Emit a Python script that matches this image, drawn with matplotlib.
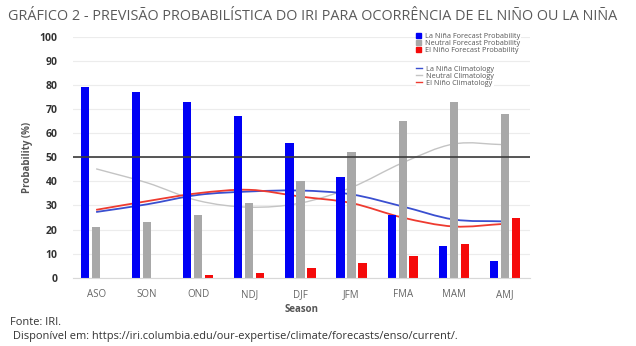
import numpy as np
import matplotlib
matplotlib.use("Agg")
import matplotlib.pyplot as plt
from matplotlib.path import Path
from matplotlib.patches import PathPatch, Patch
from matplotlib.lines import Line2D

plt.rcParams['font.family'] = ['Open Sans', 'DejaVu Sans']

# estações (trimestres) e probabilidades do IRI (%)
estacoes = ["ASO", "SON", "OND", "NDJ", "DJF", "JFM", "FMA", "MAM", "AMJ"]
prob_la_nina = [79, 77, 73, 67, 56, 42, 26, 13, 7]
prob_neutro = [21, 23, 26, 31, 40, 52, 65, 73, 68]
prob_el_nino = [0, 0, 1, 2, 4, 6, 9, 14, 25]

# climatologias
clim_la_nina = [27.3, 30.5, 34.4, 35.8, 36.2, 34.6, 29.6, 24.2, 23.4]
clim_neutro = [45.2, 39.4, 32.0, 29.3, 31.0, 37.5, 47.7, 55.5, 55.2]
clim_el_nino = [28.2, 31.8, 35.1, 36.5, 33.7, 31.0, 25.0, 21.3, 22.4]

cor_azul = "#0000f5"
cor_cinza = "#a8a8a8"
cor_verm = "#f50a0a"


def curva(ax, xs, ys, cor, lw):
    # spline simples (Catmull-Rom) convertida em Bezier cubica
    xs = np.asarray(xs, float)
    ys = np.asarray(ys, float)
    n = len(xs)
    m = np.zeros(n)
    for i in range(n):
        a = max(i - 1, 0)
        b = min(i + 1, n - 1)
        m[i] = (ys[b] - ys[a]) / (xs[b] - xs[a])
    verts = [(xs[0], ys[0])]
    codes = [Path.MOVETO]
    for i in range(n - 1):
        h = xs[i + 1] - xs[i]
        verts += [(xs[i] + h / 3, ys[i] + m[i] * h / 3),
                  (xs[i + 1] - h / 3, ys[i + 1] - m[i + 1] * h / 3),
                  (xs[i + 1], ys[i + 1])]
        codes += [Path.CURVE4] * 3
    ax.add_patch(PathPatch(Path(verts, codes), fill=False, edgecolor=cor, lw=lw))


fig = plt.figure(figsize=(6.36, 3.46), dpi=100)
ax = fig.add_axes([0.115, 0.197, 0.718, 0.697])

x = np.arange(len(estacoes))
larg = 0.16
desl = 0.215
ax.bar(x - desl, prob_la_nina, larg, color=cor_azul, zorder=2)
ax.bar(x, prob_neutro, larg, color=cor_cinza, zorder=2)
ax.bar(x + desl, prob_el_nino, larg, color=cor_verm, zorder=2)

curva(ax, x, clim_neutro, "#c4c4c4", 1.0)
curva(ax, x, clim_la_nina, "#3a4fd0", 1.3)
curva(ax, x, clim_el_nino, "#ee3b30", 1.3)

ax.axhline(50, color="#3a3a3a", lw=1.2, zorder=3)

ax.set_xlim(-0.45, 8.49)
ax.set_ylim(0, 100)
ax.set_yticks(range(0, 101, 10))
ax.set_xticks(x)
ax.set_xticklabels(estacoes)
ax.yaxis.grid(True, color="#ececec", lw=0.8)
ax.set_axisbelow(True)
for s in ["top", "right", "left"]:
    ax.spines[s].set_visible(False)
ax.spines["bottom"].set_color("#d8d8d8")
ax.tick_params(length=0)
ax.tick_params(axis="x", labelsize=7, labelcolor="#666666", pad=8)
ax.tick_params(axis="y", labelsize=7.5, labelcolor="#333333", pad=11)
for t in ax.get_yticklabels():
    t.set_fontweight("bold")
ax.set_xlabel("Season", fontsize=7, color="#555555", fontweight="bold", labelpad=3)
ax.set_ylabel("Probability (%)", fontsize=7, color="#555555", fontweight="bold", labelpad=5)

# legendas
h1 = [Patch(color=cor_azul), Patch(color=cor_cinza), Patch(color=cor_verm)]
l1 = ["La Niña Forecast Probability", "Neutral Forecast Probability", "El Niño Forecast Probability"]
leg1 = ax.legend(h1, l1, loc="upper left", bbox_to_anchor=(0.742, 1.035), fontsize=5.2,
                 frameon=True, facecolor="white", edgecolor="none", framealpha=1,
                 handlelength=0.7, handleheight=0.7, handletextpad=0.5,
                 labelspacing=0.0, borderpad=0.1, labelcolor="#555555")
ax.add_artist(leg1)
h2 = [Line2D([], [], color="#3a4fd0", lw=1), Line2D([], [], color="#c4c4c4", lw=1),
      Line2D([], [], color="#ee3b30", lw=1)]
l2 = ["La Niña Climatology", "Neutral Climatology", "El Niño Climatology"]
ax.legend(h2, l2, loc="upper left", bbox_to_anchor=(0.742, 0.898), fontsize=5.2,
          frameon=True, facecolor="white", edgecolor="none", framealpha=1,
          handlelength=0.8, handletextpad=0.5, labelspacing=0.0, borderpad=0.1,
          labelcolor="#555555")

fig.text(0.013, 0.975, "GRÁFICO 2 - PREVISÃO PROBABILÍSTICA DO IRI PARA OCORRÊNCIA DE EL NIÑO OU LA NIÑA",
         fontsize=10.35, color="#5a5a5a", ha="left", va="top")
fig.text(0.016, 0.067, "Fonte: IRI.", fontsize=7.9, color="#333333", ha="left", va="center")
fig.text(0.016, 0.027, " Disponível em: https://iri.columbia.edu/our-expertise/climate/forecasts/enso/current/.",
         fontsize=7.9, color="#333333", ha="left", va="center")

fig.savefig("out.png", dpi=100, facecolor="white")
